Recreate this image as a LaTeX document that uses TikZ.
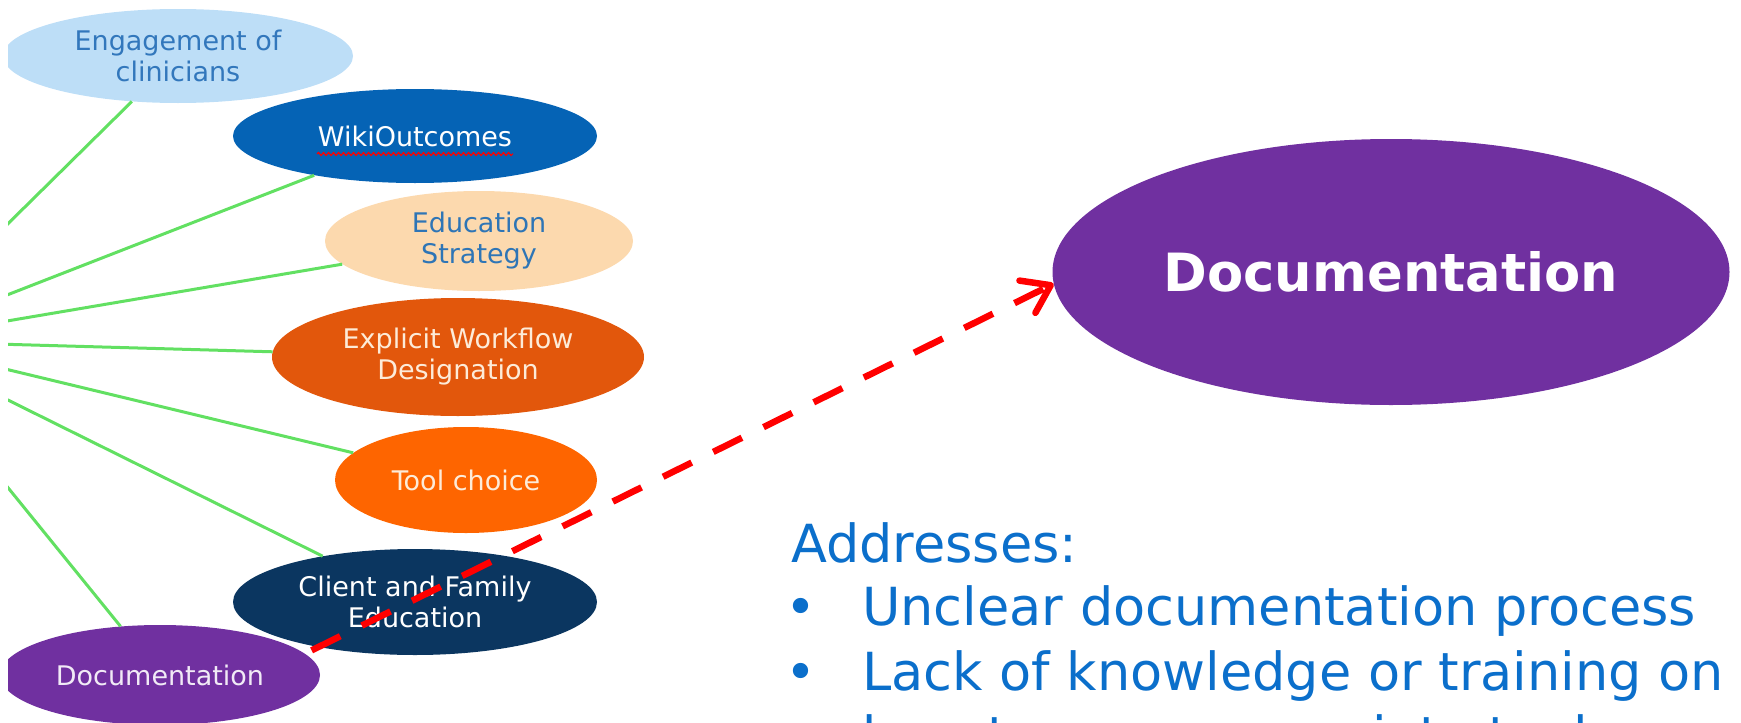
\documentclass[tikz,border=0pt]{standalone}
\usepackage{fontspec}
\usepackage{tikz}
\usetikzlibrary{calc,shapes.geometric,arrows.meta,decorations.pathmorphing}

\newfontfamily\bubblefont{DejaVu Sans}

\definecolor{engfill}{HTML}{BDDEF7}
\definecolor{engtext}{HTML}{3277BC}
\definecolor{wikifill}{HTML}{0563B5}
\definecolor{edufill}{HTML}{FCD9AE}
\definecolor{edutext}{HTML}{2E75B6}
\definecolor{flowfill}{HTML}{E2570C}
\definecolor{toolfill}{HTML}{FE6500}
\definecolor{creamtext}{HTML}{FDEBD8}
\definecolor{clientfill}{HTML}{0B3660}
\definecolor{docpurple}{HTML}{7030A0}
\definecolor{spokegreen}{HTML}{62E062}
\definecolor{noteblue}{HTML}{0B6FCB}

\tikzset{
  bubble/.style={ellipse, inner sep=0pt, align=center,
    font=\bubblefont\fontsize{27}{31}\selectfont},
  spoke/.style={draw=spokegreen, line width=3pt},
  notetext/.style={anchor=base west, inner sep=0pt, text=noteblue,
    font=\bubblefont\fontsize{52.5}{60}\selectfont},
}

\begin{document}
\begin{tikzpicture}[x=1pt,y=-1pt]
        \useasboundingbox (0,0) rectangle (1741,723);
        \clip (8,0) rectangle (1741,723);
        \coordinate (hub) at (-111,341);
        % the bubbles round the hub
        \node[bubble, fill=engfill, text=engtext, minimum width=350pt, minimum height=94pt] (eng) at (178,56) {Engagement of\\clinicians};
        \node[bubble, fill=wikifill, text=white, minimum width=364pt, minimum height=94pt] (wiki) at (415,136) {WikiOutcomes};
        \node[bubble, fill=edufill, text=edutext, minimum width=308pt, minimum height=100pt] (edu) at (479,241) {Education\\Strategy};
        \node[bubble, fill=flowfill, text=creamtext, minimum width=372pt, minimum height=118pt] (flow) at (458,357) {Explicit Workflow\\Designation};
        \node[bubble, fill=toolfill, text=creamtext, minimum width=262pt, minimum height=106pt] (tool) at (466,480) {Tool choice};
        \node[bubble, fill=docpurple, text=white!90!docpurple, minimum width=320pt, minimum height=100pt] (docsmall) at (160,675) {Documentation};
        \node[bubble, fill=clientfill, text=white, minimum width=364pt, minimum height=106pt] (client) at (415,602) {Client and Family\\Education};
        \draw[red, line width=1.2pt, decorate, decoration={snake, segment length=5pt, amplitude=1.5pt}] ($(wiki)+(-98,18)$) -- ($(wiki)+(98,18)$);
        \foreach \b in {eng,wiki,edu,flow,tool,client,docsmall} \draw[spoke] (hub) -- (\b);
        % the big one and the note
        \node[bubble, fill=docpurple, text=white, minimum width=677pt, minimum height=266pt, font=\bubblefont\bfseries\fontsize{52.7}{60}\selectfont] (bigdoc) at (1391,272) {Documentation};
        \draw[red, line width=6.5pt, dash pattern=on 32pt off 24pt, -{Straight Barb[length=26pt, width=36pt, round]}] ([xshift=12pt]docsmall.10) -- (bigdoc.182);
        \node[notetext] (addr) at (791,562) {Addresses:};
        \node[notetext] (dot1) at (785,625) {•};
        \node[notetext] (item1) at (862,625) {Unclear documentation process};
        \node[notetext] (dot2) at (785,690) {•};
        \node[notetext] (item2) at (862,690) {Lack of knowledge or training on};
        \node[notetext] (item3) at (862,754) {how to use appropriate tools};
    \end{tikzpicture}
\end{document}
